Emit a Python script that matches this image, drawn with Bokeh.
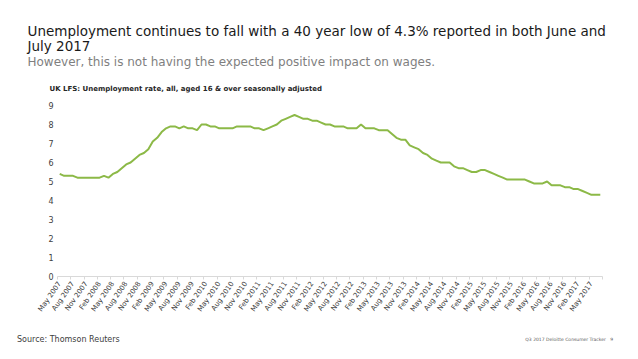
import math
from bokeh.plotting import figure
from bokeh.layouts import column
from bokeh.models import Range1d, FixedTicker, ColumnDataSource, Title, Div
from bokeh.embed import file_html
from bokeh.resources import INLINE

# ---- data (monthly, May 2007 .. Jul 2017) ----
months = ["Jan", "Feb", "Mar", "Apr", "May", "Jun", "Jul", "Aug", "Sep", "Oct", "Nov", "Dec"]
start_year, start_month = 2007, 5  # May 2007
rate = [
    5.4, 5.3, 5.3, 5.3, 5.2, 5.2, 5.2, 5.2, 5.2, 5.2, 5.3, 5.2,
    5.4, 5.5, 5.7, 5.9, 6.0, 6.2, 6.4, 6.5, 6.7, 7.1, 7.3, 7.6,
    7.8, 7.9, 7.9, 7.8, 7.9, 7.8, 7.8, 7.7, 8.0, 8.0, 7.9, 7.9,
    7.8, 7.8, 7.8, 7.8, 7.9, 7.9, 7.9, 7.9, 7.8, 7.8, 7.7, 7.8,
    7.9, 8.0, 8.2, 8.3, 8.4, 8.5, 8.4, 8.3, 8.3, 8.2, 8.2, 8.1,
    8.0, 8.0, 7.9, 7.9, 7.9, 7.8, 7.8, 7.8, 8.0, 7.8, 7.8, 7.8,
    7.7, 7.7, 7.7, 7.5, 7.3, 7.2, 7.2, 6.9, 6.8, 6.7, 6.5, 6.4,
    6.2, 6.1, 6.0, 6.0, 6.0, 5.8, 5.7, 5.7, 5.6, 5.5, 5.5, 5.6,
    5.6, 5.5, 5.4, 5.3, 5.2, 5.1, 5.1, 5.1, 5.1, 5.1, 5.0, 4.9,
    4.9, 4.9, 5.0, 4.8, 4.8, 4.8, 4.7, 4.7, 4.6, 4.6, 4.5, 4.4,
    4.3, 4.3, 4.3,
]
labels = []
for i in range(len(rate)):
    m = (start_month - 1 + i) % 12
    y = start_year + (start_month - 1 + i) // 12
    labels.append(f"{months[m]} {y}")
y_ticks = [0, 1, 2, 3, 4, 5, 6, 7, 8, 9]

title_line1 = "Unemployment continues to fall with a 40 year low of 4.3% reported in both June and"
title_line2 = "July 2017"
subtitle = "However, this is not having the expected positive impact on wages."
chart_title = "UK LFS: Unemployment rate, all, aged 16 & over seasonally adjusted"
source_text = "Source: Thomson Reuters"
footer_text = "Q3 2017 Deloitte Consumer Tracker &nbsp; 9"

FONT = "DejaVu Sans"
n = len(rate)
idx = list(range(n))

W = 622
H_MAIN, H_FOOT = 330, 13
left, right, top = 57, 20, 105
bottom = H_MAIN - 276

p = figure(width=W, height=H_MAIN, output_backend="svg", toolbar_location=None,
           x_range=Range1d(-0.5, n - 0.5), y_range=Range1d(0, 9),
           min_border_left=left, min_border_right=right,
           min_border_top=top, min_border_bottom=bottom)
p.outline_line_color = None
p.background_fill_color = "white"
p.border_fill_color = "white"
p.xgrid.visible = False
p.ygrid.visible = False

src = ColumnDataSource(dict(x=idx, y=rate))
p.line("x", "y", source=src, line_color="#8cb947", line_width=2)

# x axis
tick_idx = idx[::3]
p.xaxis.ticker = FixedTicker(ticks=tick_idx, minor_ticks=[t - 0.5 for t in tick_idx] + [n - 0.5])
p.xaxis.major_label_overrides = {i: labels[i] for i in tick_idx}
p.xaxis.major_label_orientation = math.radians(55)
p.xaxis.major_label_text_font = FONT
p.xaxis.major_label_text_font_size = "7px"
p.xaxis.major_label_text_color = "#404040"
p.xaxis.major_label_standoff = 3
p.xaxis.major_tick_out = 0
p.xaxis.major_tick_in = 0
p.xaxis.minor_tick_out = 3
p.xaxis.minor_tick_in = 0
p.xaxis.minor_tick_line_color = "#d9d9d9"
p.xaxis.axis_line_color = "#d9d9d9"

# y axis
p.yaxis.ticker = FixedTicker(ticks=y_ticks)
p.yaxis.axis_line_color = None
p.yaxis.major_tick_line_color = None
p.yaxis.minor_tick_line_color = None
p.yaxis.major_tick_out = 0
p.yaxis.major_tick_in = 0
p.yaxis.minor_tick_out = 0
p.yaxis.minor_tick_in = 0
p.yaxis.major_label_text_font = FONT
p.yaxis.major_label_text_font_size = "8px"
p.yaxis.major_label_text_color = "#404040"
p.yaxis.major_label_standoff = 4

# titles stacked above the frame (first added = closest to frame)
p.add_layout(Title(text=chart_title, align="left", offset=-8, standoff=26,
                   text_font=FONT, text_font_size="7px", text_font_style="bold",
                   text_color="#262626"), "above")
p.add_layout(Title(text=subtitle, align="left", offset=-30, standoff=2,
                   text_font=FONT, text_font_size="12px", text_font_style="normal",
                   text_color="#7f7f7f"), "above")
p.add_layout(Title(text=title_line2, align="left", offset=-30, standoff=-5,
                   text_font=FONT, text_font_size="13.5px", text_font_style="normal",
                   text_color="#1a1a1a"), "above")
p.add_layout(Title(text=title_line1, align="left", offset=-30, standoff=-1,
                   text_font=FONT, text_font_size="13.5px", text_font_style="normal",
                   text_color="#1a1a1a"), "above")

# footer strip with the source and the page footer
footer_html = (
    f'<div style="position:relative;width:{W}px;height:{H_FOOT}px;font-family:\'{FONT}\';">'
    f'<span style="position:absolute;left:17px;top:5px;font-size:8px;line-height:9px;'
    f'color:#404040;white-space:nowrap;">{source_text}</span>'
    f'<span style="position:absolute;right:9px;top:7px;font-size:4.5px;line-height:5px;'
    f'color:#595959;white-space:nowrap;">{footer_text}</span>'
    f'</div>'
)
foot = Div(text=footer_html, width=W, height=H_FOOT, margin=0)

layout = column(p, foot, spacing=0)
open("out.html", "w").write(file_html(layout, INLINE))
